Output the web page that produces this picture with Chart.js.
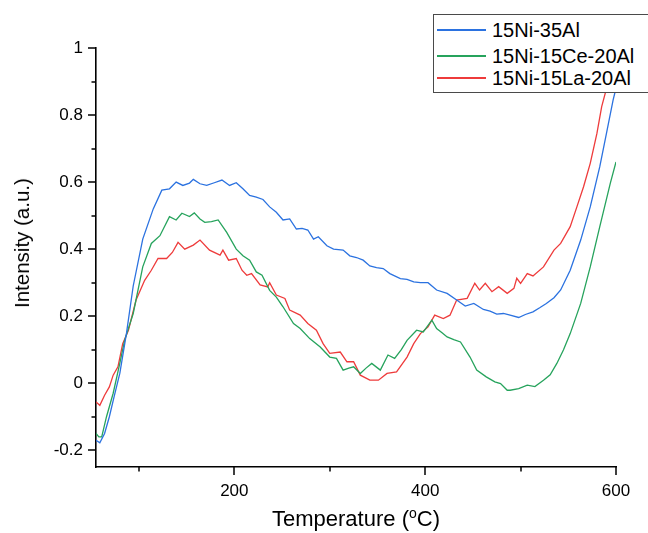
<!DOCTYPE html>
<html>
<head>
<meta charset="utf-8">
<script src="https://cdn.jsdelivr.net/npm/chart.js@4/dist/chart.umd.min.js"></script>
<style>
  html, body { margin: 0; padding: 0; background: #fff; }
  #wrap { position: relative; width: 648px; height: 533px; overflow: hidden; font-family: "Liberation Sans", Arial, sans-serif; color: #000; }
  #c { position: absolute; left: 0; top: 0; }
  #legend { position: absolute; left: 433px; top: 14px; width: 240px; height: 77px; border: 1.5px solid #4a4a4a; background: #fff; }
  .item { position: absolute; left: 0; width: 240px; height: 22px; font-size: 20px; line-height: 22px; white-space: nowrap; }
  .swatch { position: absolute; left: 3px; top: 10px; width: 49px; height: 2px; }
  .label { position: absolute; left: 58px; top: 0; }
  #xtitle { position: absolute; left: 96px; width: 520px; top: 507px; text-align: center; font-size: 22px; line-height: 24px; }
  #xtitle sup { font-size: 14px; vertical-align: 8px; line-height: 0; }
  #ytitle { position: absolute; left: 22px; top: 243px; font-size: 20.5px; line-height: 24px; white-space: nowrap; transform: translate(-50%, -50%) rotate(-90deg); }
</style>
</head>
<body>
<div id="wrap">
  <canvas id="c" width="648" height="533"></canvas>
  <div id="legend"></div>
  <div id="xtitle">Temperature (<sup>o</sup>C)</div>
  <div id="ytitle">Intensity (a.u.)</div>
</div>
<script>
/* ================================
   Data
================================ */
const seriesNames = ["15Ni-35Al", "15Ni-15Ce-20Al", "15Ni-15La-20Al"];
const seriesColors = ["#2b72e0", "#26a35c", "#ee3b3b"];

const blueT = [55, 59, 64, 69, 74, 80, 87, 94, 104, 115, 124, 132, 139, 146, 153, 157, 164, 171, 179, 187,
  195, 202, 209, 216, 223, 230, 237, 244, 251, 258, 265, 271, 277, 283, 288, 297, 304, 314, 321, 328,
  335, 342, 349, 356, 363, 374, 381, 388, 395, 403, 412, 423, 433, 442, 451, 461, 468, 475, 482, 489,
  498, 505, 513, 520, 527, 535, 542, 552, 563, 573, 583, 590, 597, 600];
const blueV = [-0.17, -0.178, -0.15, -0.10, -0.04, 0.03, 0.15, 0.29, 0.43, 0.52, 0.576, 0.58, 0.60, 0.59, 0.597, 0.608, 0.595, 0.59, 0.598, 0.606,
  0.59, 0.598, 0.58, 0.56, 0.555, 0.548, 0.526, 0.51, 0.487, 0.49, 0.46, 0.462, 0.457, 0.43, 0.437, 0.41, 0.40, 0.397, 0.38, 0.375,
  0.367, 0.35, 0.345, 0.342, 0.327, 0.312, 0.31, 0.302, 0.30, 0.30, 0.278, 0.268, 0.248, 0.23, 0.238, 0.22, 0.215, 0.206, 0.208, 0.203,
  0.196, 0.205, 0.213, 0.225, 0.238, 0.255, 0.278, 0.337, 0.427, 0.526, 0.646, 0.745, 0.845, 0.88];

const greenT = [55, 58, 61, 66, 73, 80, 85, 94, 104, 113, 122, 132, 139, 145, 153, 158, 164, 169, 176, 183,
  192, 202, 209, 216, 223, 229, 237, 244, 251, 262, 269, 279, 290, 300, 307, 314, 320, 325, 332, 338,
  344, 353, 361, 368, 375, 381, 391, 398, 407, 412, 418, 423, 430, 437, 447, 454, 464, 473, 479, 486,
  489, 498, 507, 515, 524, 531, 538, 545, 552, 563, 573, 583, 594, 600];
const greenV = [-0.15, -0.16, -0.16, -0.10, -0.03, 0.06, 0.128, 0.208, 0.347, 0.417, 0.44, 0.497, 0.487, 0.507, 0.497, 0.508, 0.49, 0.48, 0.482, 0.487,
  0.45, 0.40, 0.38, 0.367, 0.332, 0.322, 0.277, 0.257, 0.228, 0.178, 0.163, 0.133, 0.108, 0.078, 0.074, 0.039, 0.045, 0.049, 0.029, 0.045,
  0.059, 0.039, 0.084, 0.074, 0.10, 0.128, 0.158, 0.153, 0.188, 0.163, 0.15, 0.138, 0.13, 0.123, 0.078, 0.039, 0.019, 0.004, -0.001, -0.021,
  -0.021, -0.016, -0.006, -0.01, 0.009, 0.025, 0.059, 0.10, 0.148, 0.238, 0.347, 0.467, 0.596, 0.66];

const redT = [55, 59, 64, 69, 73, 78, 83, 89, 97, 106, 113, 120, 129, 135, 141, 148, 157, 164, 174, 185,
  188, 194, 202, 208, 213, 218, 227, 235, 237, 244, 253, 258, 269, 277, 286, 293, 300, 311, 318, 325,
  332, 342, 351, 360, 370, 381, 388, 395, 403, 410, 419, 426, 433, 444, 452, 457, 463, 470, 477, 486,
  493, 496, 500, 507, 513, 524, 535, 542, 552, 559, 566, 573, 580, 585, 592];
const redV = [-0.056, -0.066, -0.036, -0.011, 0.024, 0.049, 0.118, 0.158, 0.248, 0.307, 0.337, 0.372, 0.372, 0.39, 0.42, 0.40, 0.412, 0.427, 0.397, 0.382,
  0.397, 0.367, 0.372, 0.337, 0.322, 0.327, 0.293, 0.287, 0.30, 0.263, 0.253, 0.218, 0.203, 0.178, 0.158, 0.118, 0.089, 0.093, 0.064, 0.064,
  0.024, 0.009, 0.009, 0.029, 0.034, 0.078, 0.118, 0.148, 0.168, 0.203, 0.193, 0.203, 0.248, 0.253, 0.298, 0.278, 0.298, 0.273, 0.288, 0.268,
  0.283, 0.313, 0.298, 0.327, 0.32, 0.347, 0.397, 0.417, 0.467, 0.526, 0.586, 0.656, 0.745, 0.825, 0.9];

const xMajorTicks = [200, 400, 600];
const xMinorTicks = [100, 300, 500];
const yMajorTicks = [-0.2, 0, 0.2, 0.4, 0.6, 0.8, 1];
const yMinorTicks = [-0.1, 0.1, 0.3, 0.5, 0.7, 0.9];

/* ================================
   Helpers
================================ */
function toPoints(ts, vs) {
  return ts.map((t, i) => ({ x: t, y: vs[i] }));
}

const FONT = '"Liberation Sans", Arial, sans-serif';

// tick marks drawn outward from the axes, short for minor ones
const tickMarks = {
  id: "tickMarks",
  afterDraw(chart) {
    const { ctx, scales: { x, y } } = chart;
    ctx.save();
    ctx.strokeStyle = "#000";
    ctx.lineWidth = 1.5;
    ctx.beginPath();
    yMajorTicks.forEach(v => { const p = Math.round(y.getPixelForValue(v)); ctx.moveTo(x.left, p); ctx.lineTo(x.left - 8, p); });
    yMinorTicks.forEach(v => { const p = Math.round(y.getPixelForValue(v)); ctx.moveTo(x.left, p); ctx.lineTo(x.left - 4.5, p); });
    xMajorTicks.forEach(v => { const p = Math.round(x.getPixelForValue(v)); ctx.moveTo(p, y.bottom); ctx.lineTo(p, y.bottom + 8); });
    xMinorTicks.forEach(v => { const p = Math.round(x.getPixelForValue(v)); ctx.moveTo(p, y.bottom); ctx.lineTo(p, y.bottom + 4.5); });
    ctx.stroke();
    ctx.restore();
  }
};

/* ================================
   Chart
================================ */
const allT = [blueT, greenT, redT];
const allV = [blueV, greenV, redV];

new Chart(document.getElementById("c"), {
  type: "line",
  data: {
    datasets: seriesNames.map((name, i) => ({
      label: name,
      data: toPoints(allT[i], allV[i]),
      borderColor: seriesColors[i],
      borderWidth: 1.3,
      pointRadius: 0,
      tension: 0,
      fill: false
    }))
  },
  options: {
    responsive: false,
    animation: false,
    devicePixelRatio: 1,
    layout: { padding: { top: 48, right: 32, left: 0, bottom: 0 } },
    plugins: { legend: { display: false }, tooltip: { enabled: false } },
    scales: {
      x: {
        type: "linear",
        min: 55,
        max: 600,
        afterFit: s => { s.height = 66; },
        afterBuildTicks: s => { s.ticks = xMajorTicks.map(v => ({ value: v })); },
        grid: { display: true, drawOnChartArea: false, drawTicks: false },
        border: { display: true, color: "#000", width: 1.6 },
        ticks: { color: "#000", font: { family: FONT, size: 17 }, padding: 14, maxRotation: 0 }
      },
      y: {
        type: "linear",
        min: -0.25,
        max: 1,
        afterFit: s => { s.width = 96; },
        afterBuildTicks: s => { s.ticks = yMajorTicks.map(v => ({ value: v })); },
        grid: { display: true, drawOnChartArea: false, drawTicks: false },
        border: { display: true, color: "#000", width: 1.6 },
        ticks: { color: "#000", font: { family: FONT, size: 17 }, padding: 13, callback: v => String(Math.round(v * 10) / 10) }
      }
    }
  },
  plugins: [tickMarks]
});

/* ================================
   Legend (HTML, boxed over the plot)
================================ */
const legendTops = [4, 30, 52];
const legend = document.getElementById("legend");
seriesNames.forEach((name, i) => {
  const row = document.createElement("div");
  row.className = "item";
  row.style.top = legendTops[i] + "px";

  const swatch = document.createElement("div");
  swatch.className = "swatch";
  swatch.style.backgroundColor = seriesColors[i];

  const label = document.createElement("div");
  label.className = "label";
  label.textContent = name;

  row.appendChild(swatch);
  row.appendChild(label);
  legend.appendChild(row);
});
</script>
</body>
</html>
